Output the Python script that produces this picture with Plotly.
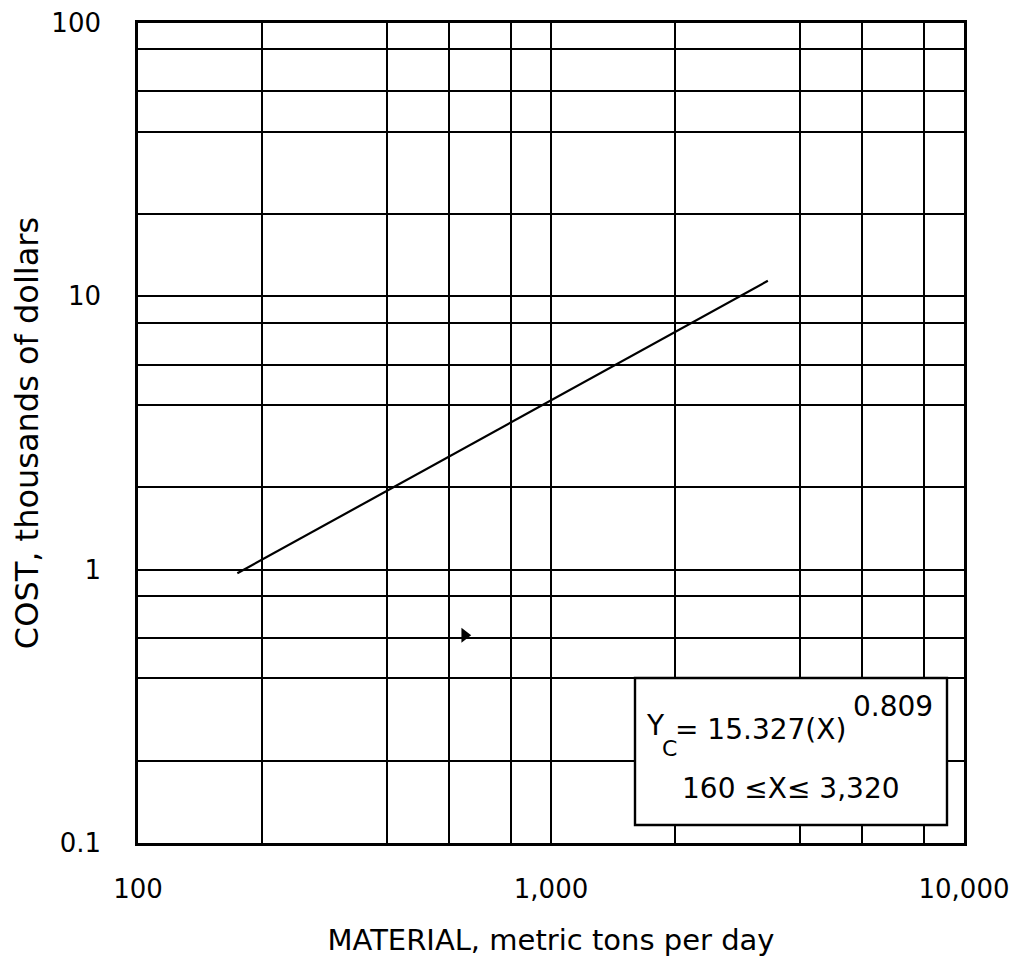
import plotly.graph_objects as go

# ---- data ----
line_x = [174, 3350]          # MATERIAL, metric tons per day
line_y = [0.97, 11.4]         # COST, thousands of dollars
mark_x = [618]                # small arrow-like mark on the 0.56 grid line
mark_y = [0.575]

x_tickvals = [100, 200, 400, 565, 800, 1000, 2000, 4000, 5650, 8000, 10000]
x_ticktext = ["100", "", "", "", "", "1,000", "", "", "", "", "10,000"]
y_tickvals = [0.1, 0.2, 0.4, 0.562, 0.8, 1, 2, 4, 5.62, 8, 10, 20, 40, 56.2, 80, 100]
y_ticktext = ["0.1", "", "", "", "", "1", "", "", "", "", "10", "", "", "", "", "100"]

eq_main = "= 15.327(X)"
eq_exp = "0.809"
eq_range = "160 ≤X≤ 3,320"

FONT = "DejaVu Sans"
W, H = 1019, 966
L, R, T, B = 138, 55, 23, 123


def px(xp):
    return (xp - L) / (W - L - R)


def py(yp):
    return (H - B - yp) / (H - T - B)


fig = go.Figure()
fig.add_trace(go.Scatter(x=line_x, y=line_y, mode="lines",
                         line=dict(color="black", width=2.2),
                         showlegend=False, hoverinfo="skip"))
fig.add_trace(go.Scatter(x=mark_x, y=mark_y, mode="markers",
                         marker=dict(symbol="triangle-right", size=13, color="black"),
                         showlegend=False, hoverinfo="skip"))

axis_common = dict(
    showgrid=True, gridcolor="black", gridwidth=2.2,
    showline=True, linecolor="black", linewidth=2.6, mirror=True,
    ticks="", zeroline=False,
    tickfont=dict(family=FONT, size=26, color="black"),
)

fig.update_xaxes(type="log", range=[2, 4], tickvals=x_tickvals, ticktext=x_ticktext,
                 ticklabelstandoff=21,
                 title=dict(text="MATERIAL, metric tons per day",
                            font=dict(family=FONT, size=29, color="black"), standoff=27),
                 **axis_common)
fig.update_yaxes(type="log", range=[-1, 2], tickvals=y_tickvals, ticktext=y_ticktext,
                 ticklabelstandoff=29,
                 title=dict(text="COST, thousands of dollars",
                            font=dict(family=FONT, size=32, color="black"), standoff=4),
                 **axis_common)

# equation box
fig.add_shape(type="rect", xref="paper", yref="paper",
              x0=px(635), x1=px(947), y0=py(825), y1=py(678),
              fillcolor="white", line=dict(color="black", width=2.4), layer="above")

ann_font = dict(family=FONT, size=28, color="black")
fig.add_annotation(xref="paper", yref="paper", x=px(644), y=py(725), text="Y",
                   showarrow=False, xanchor="left", yanchor="middle", font=ann_font)
fig.add_annotation(xref="paper", yref="paper", x=px(660), y=py(748), text="C",
                   showarrow=False, xanchor="left", yanchor="middle",
                   font=dict(family=FONT, size=22, color="black"))
fig.add_annotation(xref="paper", yref="paper", x=px(673), y=py(729), text=eq_main,
                   showarrow=False, xanchor="left", yanchor="middle", font=ann_font)
fig.add_annotation(xref="paper", yref="paper", x=px(851), y=py(706), text=eq_exp,
                   showarrow=False, xanchor="left", yanchor="middle", font=ann_font)
fig.add_annotation(xref="paper", yref="paper", x=px(791), y=py(788), text=eq_range,
                   showarrow=False, xanchor="center", yanchor="middle", font=ann_font)

fig.update_layout(
    width=W, height=H,
    margin=dict(l=L, r=R, t=T, b=B, autoexpand=False),
    paper_bgcolor="white", plot_bgcolor="white",
    font=dict(family=FONT, color="black"),
    showlegend=False,
)

fig.write_html("out.html")
